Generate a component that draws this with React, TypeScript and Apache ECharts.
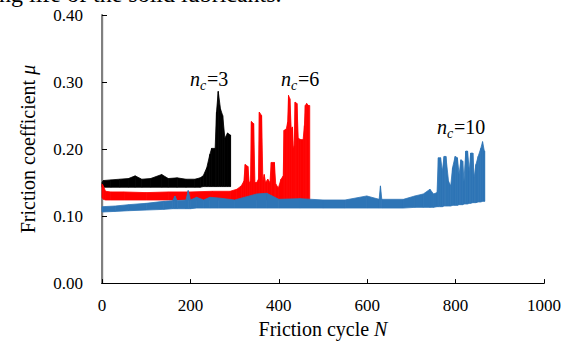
import React, { useEffect, useRef } from "react";
import * as echarts from "echarts";

// ---- data ----
const xTicks = [0, 200, 400, 600, 800, 1000];
const yTicks = [0, 0.1, 0.2, 0.3, 0.4];

// n_c = 3 (black): cycle, lower envelope, upper envelope
const blackN = [0, 3, 20, 40, 60, 75, 90, 110, 135, 150, 170, 190, 210, 222, 229, 237, 244, 248, 256, 259, 263, 268, 273, 278, 284, 290, 291];
const blackLo = [0.143, 0.143, 0.143, 0.143, 0.143, 0.143, 0.143, 0.143, 0.143, 0.143, 0.143, 0.143, 0.143, 0.143, 0.144, 0.144, 0.144, 0.144, 0.144, 0.144, 0.144, 0.144, 0.144, 0.144, 0.144, 0.144, 0.144];
const blackHi = [0.150, 0.153, 0.154, 0.155, 0.156, 0.160, 0.155, 0.156, 0.162, 0.156, 0.157, 0.155, 0.155, 0.157, 0.160, 0.172, 0.192, 0.201, 0.201, 0.255, 0.286, 0.260, 0.250, 0.216, 0.224, 0.221, 0.221];

// n_c = 6 (red)
const redN = [0, 3, 8, 20, 50, 100, 150, 200, 250, 290, 305, 315, 321, 324, 330, 333, 336, 338, 343, 346, 350, 354, 356, 361, 364, 367, 370, 375, 380, 383, 390, 393, 399, 405, 410, 412, 417, 420, 422, 425, 428, 431, 433, 435, 437, 441, 444, 450, 455, 458, 460, 463, 467, 470];
const redLo = [0.128, 0.125, 0.124, 0.124, 0.124, 0.124, 0.124, 0.124, 0.124, 0.124, 0.124, 0.124, 0.124, 0.124, 0.124, 0.124, 0.124, 0.124, 0.124, 0.124, 0.124, 0.124, 0.124, 0.124, 0.124, 0.124, 0.124, 0.124, 0.124, 0.124, 0.124, 0.124, 0.124, 0.124, 0.124, 0.124, 0.124, 0.124, 0.124, 0.124, 0.124, 0.124, 0.124, 0.124, 0.124, 0.124, 0.124, 0.124, 0.124, 0.124, 0.124, 0.124, 0.124, 0.124];
const redHi = [0.148, 0.145, 0.137, 0.136, 0.136, 0.135, 0.136, 0.136, 0.137, 0.137, 0.140, 0.145, 0.152, 0.177, 0.174, 0.150, 0.152, 0.241, 0.238, 0.150, 0.150, 0.155, 0.255, 0.250, 0.152, 0.162, 0.150, 0.155, 0.150, 0.180, 0.180, 0.148, 0.142, 0.155, 0.160, 0.228, 0.230, 0.240, 0.280, 0.275, 0.231, 0.233, 0.200, 0.205, 0.270, 0.268, 0.216, 0.214, 0.214, 0.235, 0.265, 0.268, 0.265, 0.265];

// n_c = 10 (blue)
const blueN = [0, 30, 60, 100, 140, 160, 165, 170, 190, 195, 200, 214, 230, 244, 263, 300, 350, 373, 400, 448, 500, 550, 599, 627, 630, 633, 682, 708, 727, 742, 750, 758, 761, 766, 770, 774, 778, 784, 789, 793, 799, 804, 808, 812, 816, 819, 823, 827, 831, 834, 839, 842, 846, 851, 857, 861, 865, 866];
const blueLo = [0.106, 0.107, 0.108, 0.109, 0.110, 0.111, 0.111, 0.111, 0.111, 0.111, 0.111, 0.112, 0.112, 0.112, 0.112, 0.112, 0.112, 0.112, 0.112, 0.112, 0.112, 0.112, 0.112, 0.112, 0.112, 0.112, 0.112, 0.113, 0.113, 0.113, 0.113, 0.114, 0.114, 0.114, 0.114, 0.115, 0.115, 0.115, 0.115, 0.116, 0.116, 0.116, 0.117, 0.117, 0.117, 0.118, 0.118, 0.118, 0.119, 0.119, 0.120, 0.120, 0.120, 0.121, 0.121, 0.122, 0.122, 0.122];
const blueHi = [0.114, 0.115, 0.117, 0.119, 0.122, 0.123, 0.130, 0.123, 0.124, 0.138, 0.124, 0.128, 0.124, 0.128, 0.127, 0.124, 0.133, 0.134, 0.125, 0.126, 0.124, 0.124, 0.130, 0.125, 0.145, 0.125, 0.125, 0.130, 0.133, 0.140, 0.133, 0.135, 0.187, 0.187, 0.167, 0.189, 0.189, 0.152, 0.145, 0.172, 0.189, 0.187, 0.162, 0.184, 0.182, 0.152, 0.197, 0.197, 0.167, 0.194, 0.194, 0.157, 0.177, 0.189, 0.201, 0.211, 0.197, 0.197];

const FAM = "Liberation Serif";

function bandSeries(name: string, N: number[], lo: number[], hi: number[], color: string, z: number) {
  return {
    type: "custom",
    name,
    z,
    data: N.map((n, i) => [n, lo[i], hi[i]]),
    encode: { x: 0, y: [1, 2] },
    renderItem: (params: any, api: any) => {
      const i = params.dataIndex;
      if (i >= N.length - 1) return { type: "group", children: [] };
      const p1 = api.coord([N[i], hi[i]]);
      const p2 = api.coord([N[i + 1], hi[i + 1]]);
      const p3 = api.coord([N[i + 1], lo[i + 1]]);
      const p4 = api.coord([N[i], lo[i]]);
      return {
        type: "polygon",
        shape: { points: [p1, p2, p3, p4] },
        style: { fill: color, stroke: color, lineWidth: 0.8 },
      };
    },
  };
}

function label(x: number, y: number, num: string) {
  return [
    { type: "text", x, y, style: { text: "n", fontFamily: FAM, fontSize: 20, fontStyle: "italic", fill: "#000", verticalAlign: "middle" } },
    { type: "text", x: x + 10, y: y + 6, style: { text: "c", fontFamily: FAM, fontSize: 14, fontStyle: "italic", fill: "#000", verticalAlign: "middle" } },
    { type: "text", x: x + 17, y, style: { text: "=" + num, fontFamily: FAM, fontSize: 20, fill: "#000", verticalAlign: "middle" } },
  ];
}

export default function App() {
  const ref = useRef<HTMLDivElement>(null);
  useEffect(() => {
    document.body.style.margin = "0";
    const chart = echarts.init(ref.current!, null, { renderer: "svg" });
    const axisFont = { fontFamily: FAM, fontSize: 17, color: "#000" };
    chart.setOption({
      animation: false,
      backgroundColor: "#fff",
      grid: { left: 102, right: 26, top: 15, bottom: 57 },
      xAxis: [
        {
          type: "value",
          min: xTicks[0],
          max: xTicks[xTicks.length - 1],
          interval: xTicks[1] - xTicks[0],
          axisLine: { show: true, lineStyle: { color: "#000", width: 1.2 } },
          axisTick: { show: true, inside: true, length: 4, lineStyle: { color: "#000" } },
          axisLabel: { ...axisFont, margin: 14, formatter: (v: number) => String(v) },
          splitLine: { show: false },
          name: "Friction cycle {i|N}",
          nameLocation: "middle",
          nameGap: 33,
          nameTextStyle: {
            fontFamily: FAM, fontSize: 20, color: "#000",
            rich: { i: { fontFamily: FAM, fontSize: 20, fontStyle: "italic", color: "#000" } },
          },
        },
        {
          type: "value",
          position: "top",
          min: xTicks[0],
          max: xTicks[xTicks.length - 1],
          axisLine: { show: true, lineStyle: { color: "#000", width: 1.2 } },
          axisTick: { show: false },
          axisLabel: { show: false },
          splitLine: { show: false },
        },
      ],
      yAxis: [
        {
          type: "value",
          min: yTicks[0],
          max: yTicks[yTicks.length - 1],
          interval: yTicks[1] - yTicks[0],
          axisLine: { show: true, lineStyle: { color: "#000", width: 1.2 } },
          axisTick: { show: true, inside: true, length: 5, lineStyle: { color: "#000" } },
          axisLabel: { ...axisFont, margin: 19, formatter: (v: number) => v.toFixed(2) },
          splitLine: { show: false },
          name: "Friction coefficient {i|μ}",
          nameLocation: "middle",
          nameGap: 64,
          nameTextStyle: {
            fontFamily: FAM, fontSize: 20, color: "#000",
            rich: { i: { fontFamily: FAM, fontSize: 20, fontStyle: "italic", color: "#000" } },
          },
        },
        {
          type: "value",
          position: "right",
          min: yTicks[0],
          max: yTicks[yTicks.length - 1],
          axisLine: { show: true, lineStyle: { color: "#808080", width: 2 } },
          axisTick: { show: false },
          axisLabel: { show: false },
          splitLine: { show: false },
        },
      ],
      series: [
        bandSeries("n_c=3", blackN, blackLo, blackHi, "#000000", 2),
        bandSeries("n_c=6", redN, redLo, redHi, "#ff0000", 3),
        bandSeries("n_c=10", blueN, blueLo, blueHi, "#2e75b6", 4),
      ],
      graphic: [
        { type: "text", x: -1, y: -6, style: { text: "ng life of the solid lubricants.", fontFamily: FAM, fontSize: 24, fill: "#000", verticalAlign: "middle" } },
        ...label(190, 79, "3"),
        ...label(281, 79, "6"),
        ...label(437, 127, "10"),
      ],
    });
    return () => chart.dispose();
  }, []);
  return <div ref={ref} style={{ width: 570, height: 344 }} />;
}
